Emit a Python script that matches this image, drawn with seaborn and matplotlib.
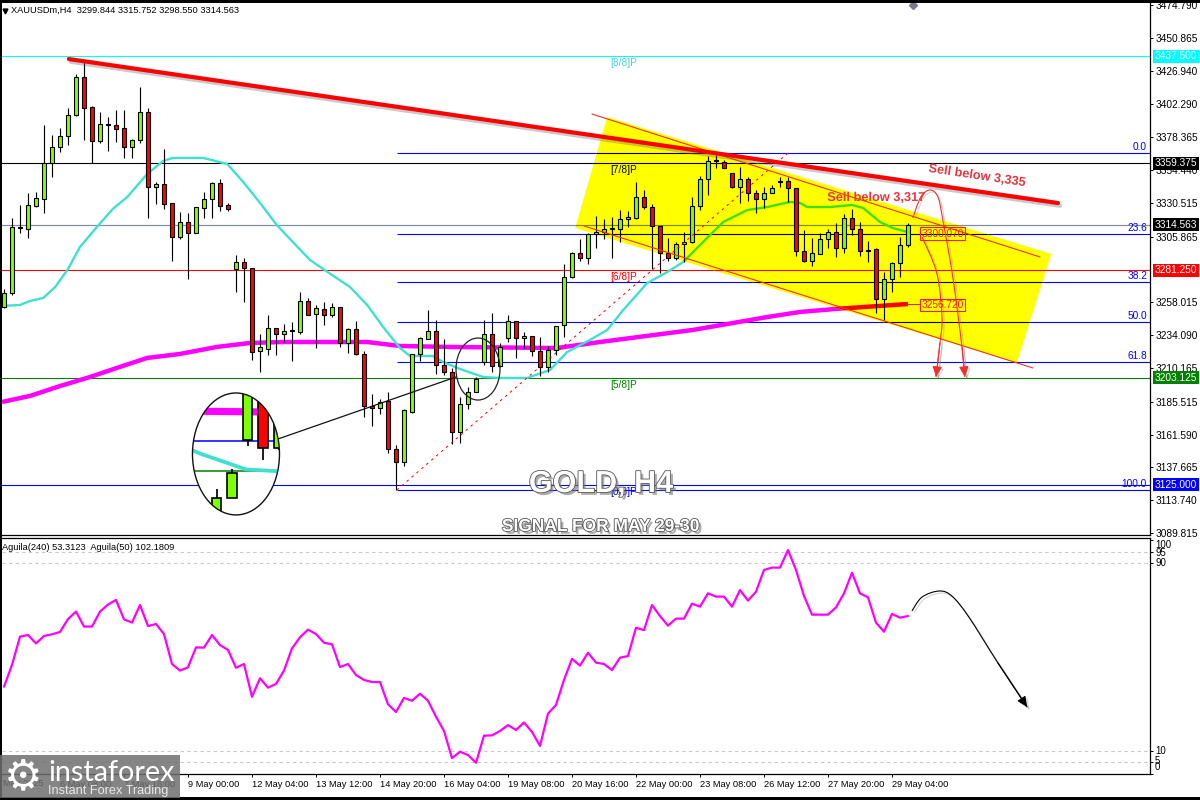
import numpy as np
import matplotlib
matplotlib.use("Agg")
import matplotlib.pyplot as plt
import matplotlib.patheffects as pe
from matplotlib.colors import to_rgb
from matplotlib.patches import Polygon, Ellipse, Rectangle, PathPatch
from matplotlib.path import Path
import seaborn as sns

# ------------------------------------------------------------------ data
opens = [3254.6,3264.8,3312.2,3311.5,3328.3,3333.4,3359.6,3371.3,3379.3,3394.6,
         3422.3,3400.4,3375.7,3387.3,3387.3,3385.1,3371.3,3376.4,3396.8,3342.1,
         3344.3,3330.5,3305.7,3316.6,3308.6,3326.8,3333.4,3345.0,3329.0,3282.3,
         3287.4,3283.1,3222.6,3224.0,3239.3,3234.9,3237.1,3236.4,3259.0,3249.5,
         3253.2,3248.8,3254.6,3228.4,3238.6,3220.4,3182.5,3181.0,3186.1,3151.1,
         3141.6,3178.1,3220.4,3231.3,3237.1,3212.4,3207.2,3163.5,3183.9,3192.7,
         3214.5,3234.9,3211.6,3232.0,3244.4,3232.0,3233.5,3222.6,3210.9,3223.3,
         3241.5,3276.5,3294.0,3290.4,3307.9,3309.3,3311.5,3311.5,3318.8,3319.5,
         3334.8,3327.5,3313.7,3294.0,3290.4,3300.6,3302.0,3328.3,3347.9,3361.1,
         3360.3,3352.3,3342.1,3347.9,3337.7,3333.4,3337.7,3345.8,3346.5,3341.4,
         3295.5,3288.2,3293.3,3304.2,3309.3,3297.6,3319.5,3311.5,3296.2,3296.9,
         3260.5,3275.0,3286.7,3299.844]
highs = [3267.8,3319.5,3329.0,3337.7,3338.5,3387.3,3380.0,3385.1,3399.7,3424.5,
         3433.2,3401.2,3396.8,3393.1,3398.3,3398.3,3377.1,3415.0,3399.7,3345.8,
         3369.8,3330.5,3323.9,3323.2,3327.5,3338.5,3345.8,3347.9,3330.5,3292.5,
         3290.4,3283.1,3234.9,3248.8,3239.3,3242.2,3243.7,3265.6,3261.2,3256.1,
         3258.3,3257.5,3254.6,3239.3,3244.4,3222.6,3191.2,3187.6,3192.7,3154.0,
         3180.3,3220.4,3232.8,3252.5,3245.2,3231.3,3210.2,3189.0,3196.3,3203.6,
         3245.2,3250.3,3228.4,3248.8,3244.4,3236.4,3233.5,3232.8,3226.2,3240.8,
         3286.0,3294.7,3304.2,3308.6,3321.0,3318.8,3320.2,3325.3,3324.6,3345.8,
         3339.9,3329.7,3313.7,3304.9,3302.0,3309.3,3334.8,3350.1,3364.7,3365.4,
         3361.8,3352.3,3356.7,3349.4,3339.9,3342.1,3343.6,3349.4,3349.4,3341.4,
         3310.8,3304.9,3308.6,3311.5,3315.9,3322.4,3326.1,3316.6,3302.7,3297.6,
         3280.1,3287.4,3305.7,3315.752]
lows = [3253.9,3263.4,3308.6,3304.9,3327.5,3323.2,3349.4,3367.6,3372.7,3393.9,
        3376.4,3359.6,3374.2,3368.4,3374.9,3363.3,3363.3,3374.2,3319.5,3329.7,
        3326.1,3288.2,3304.2,3275.0,3308.6,3319.5,3319.5,3324.6,3324.6,3265.6,
        3258.3,3216.0,3207.2,3219.6,3219.6,3229.1,3215.3,3234.9,3248.8,3224.7,
        3241.5,3247.3,3225.5,3221.1,3219.6,3174.4,3167.9,3176.6,3148.2,3121.2,
        3138.7,3177.4,3215.3,3231.3,3205.8,3205.1,3154.8,3155.5,3180.3,3192.7,
        3212.4,3207.2,3210.9,3229.1,3217.5,3224.7,3218.9,3204.3,3207.2,3219.6,
        3232.8,3275.8,3288.2,3286.0,3297.6,3304.2,3290.4,3302.0,3312.9,3318.8,
        3326.1,3282.3,3279.4,3288.2,3288.9,3287.4,3301.3,3325.3,3336.3,3355.9,
        3355.9,3341.4,3330.5,3331.9,3323.2,3326.8,3337.7,3342.1,3331.2,3291.8,
        3287.4,3284.5,3293.3,3297.6,3291.1,3294.0,3307.1,3291.8,3287.4,3250.3,
        3245.2,3265.6,3276.5,3298.55]
closes = [3264.8,3312.9,3312.9,3329.0,3334.1,3359.6,3371.3,3379.3,3394.6,3422.3,
          3399.7,3375.7,3388.0,3387.8,3384.4,3371.3,3376.4,3396.8,3342.1,3344.3,
          3329.7,3305.7,3316.6,3308.6,3327.5,3333.4,3345.0,3328.3,3326.1,3287.4,
          3283.1,3221.8,3225.5,3239.3,3234.9,3237.1,3237.5,3259.0,3248.8,3253.9,
          3248.8,3254.6,3228.4,3238.6,3220.4,3182.5,3181.0,3185.4,3151.1,3141.6,
          3179.5,3220.4,3232.0,3237.1,3212.4,3207.2,3163.5,3183.9,3192.7,3202.1,
          3234.9,3211.6,3225.5,3244.4,3232.0,3233.5,3222.6,3210.9,3223.3,3240.8,
          3276.5,3294.0,3290.4,3307.9,3309.3,3311.5,3311.9,3318.8,3320.2,3334.8,
          3327.5,3313.7,3294.0,3290.4,3300.6,3302.0,3328.3,3347.9,3361.1,3361.5,
          3355.9,3342.1,3347.9,3337.7,3333.4,3337.7,3341.4,3346.2,3341.4,3295.5,
          3288.2,3294.0,3304.2,3309.3,3297.6,3319.5,3311.5,3295.5,3295.8,3260.5,
          3275.0,3286.7,3299.8,3314.563]

ma_fast_x = [-0.1,2,3.25,4.9,6.4,8,9.5,11.6,13.6,15.4,17.9,19.9,21.1,24.9,27.9,29.9,32,34.1,36.1,38.25,
             39.9,43.25,45.4,47.4,49.5,50.75,53.6,54.9,57,59.9,62,65.4,68.25,70.4,73.25,75.4,77.4,80.4,
             82.9,84.9,87,89.9,92.9,95.4,98.25,99.5,100.4,103.25,106,107.4,109.5,111.1,112.9]
ma_fast_y = [3255.4,3256.1,3259,3261.2,3269.2,3282.3,3298.4,3312.9,3326.1,3334.8,3351.6,3361.1,3363.3,3363.3,
             3358.9,3345.8,3330.5,3314.4,3302,3288.9,3282.3,3269.2,3256.1,3240,3224.7,3218.9,3218.9,3214.5,
             3209.4,3203.6,3202.9,3202.9,3208.7,3221.8,3230.6,3237.9,3252.4,3272.1,3280.1,3287.4,3299.8,
             3316.6,3325.3,3327.5,3331.2,3330.5,3327.5,3327.5,3329,3326.8,3316.6,3312.2,3309.3]
ma_slow_x = [-0.25,3.25,7,10.75,14.1,17.9,22,26.6,30.75,34.9,41.1,45.4,49.5,55.75,69.1,74.5,86.1,95.4,99.5,103.9,113]
ma_slow_y = [3185.4,3189.8,3197.0,3203.6,3210.2,3217.5,3220.4,3225.5,3228.4,3229.1,3229.1,3229.1,3226.2,3225.5,
             3224.7,3229.1,3237.9,3247.3,3251,3253.2,3256.8]

aguila = [37.3,46.6,58.7,59.4,55.8,59.0,59.7,60.7,66.2,69.4,63.0,63.0,69.4,72.4,74.4,66.1,64.7,72.2,63.2,64.1,
          59.8,47.0,44.2,45.6,54.1,54.0,59.4,55.1,53.0,45.4,47.0,33.0,40.9,36.9,38.5,44.2,53.7,58.4,61.7,59.8,
          56.1,55.4,45.7,47.0,42.3,40.2,39.3,39.3,29.8,26.5,32.5,31.3,34.3,31.3,24.5,18.4,6.8,9.5,8.1,4.8,
          16.4,16.5,18.4,20.9,18.8,22.0,18.0,12.0,25.8,29.5,40.2,49.2,46.3,51.8,47.6,47.0,44.4,49.7,50.4,62.5,
          61.5,72.2,67.5,63.4,66.4,66.4,72.8,71.5,77.2,75.8,75.8,71.5,78.6,74.1,77.9,87.2,88.2,88.2,95.7,87.2,
          76.1,68.1,68.1,68.1,71.2,77.2,86.0,77.2,75.5,64.7,60.8,68.4,66.8,67.5]

murrey_prices = [3437.5, 3359.375, 3281.25, 3203.125, 3125.0]
murrey_names = ["[8/8]P", "[7/8]P", "[6/8]P", "[5/8]P", "[0/8]P"]
murrey_colors = ["#00FFFF", "#000000", "#FF0000", "#008000", "#0000FF"]
fib_names = ["0.0", "23.6", "38.2", "50.0", "61.8", "100.0"]
fib_prices = [3366.7, 3308.2, 3272.6, 3243.5, 3214.3, 3121.2]
bid_price = 3314.563

price_ticks = [3474.790,3450.865,3426.940,3402.290,3378.365,3354.440,3330.515,3305.865,
               3258.015,3234.090,3210.165,3185.515,3161.590,3137.665,3113.740,3089.815]
time_ticks = [7,15,23,31,39,47,55,63,71,79,87,95,103,111]
time_labels = ["6 May 08:00","7 May 16:00","9 May 00:00","12 May 04:00","13 May 12:00","14 May 20:00",
               "16 May 04:00","19 May 08:00","20 May 16:00","22 May 00:00","23 May 08:00","26 May 12:00",
               "27 May 20:00","29 May 04:00"]
aguila_ticks = [100, 95, 90, 10, 5, 0]

# annotation geometry, in candle index / price units
channel_x = [75.4, 130.9, 126.6, 71.4]
channel_y = [3393.1, 3293.3, 3213.8, 3312.2]
upper_x, upper_y = [73.5, 129.5], [3395.3, 3291.1]
lower_x, lower_y = [72.5, 128.6], [3313.7, 3210.2]
trend_x, trend_y = [8.1, 131.75], [3435.4, 3330.4]
fib_x, fib_y = [49.1, 98.0], [3121.2, 3366.9]
curve1_x = [113.6,114.6,115.75,116.75,117.4,118.6,119.75,120.1]
curve1_y = [3319.5,3334.8,3339.9,3334.8,3316.6,3276.5,3225.5,3203.6]
curve2_x = [114.75,116.6,117.25,117.0,116.5]
curve2_y = [3305.7,3279.4,3247.3,3228.4,3203.6]
arrow_x = [113.5,114.75,116.9,118.5,120.6,124.25,127.9]
arrow_y = [69.7,75.6,78.2,76.0,67.1,47.4,28.6]

# ------------------------------------------------------------------ style
FONT = ["Liberation Sans", "DejaVu Sans"]
sns.set_theme(style="white")
plt.rcParams["font.family"] = FONT
plt.rcParams["axes.unicode_minus"] = False
TS = 7.3
TS2 = 6.7
PX = 0.72

W, H = 1200, 800
fig = plt.figure(figsize=(12, 8), dpi=100, facecolor="white")
ax = fig.add_axes([2/W, (H-535)/H, 1148/W, 532/H])
ax2 = fig.add_axes([2/W, (H-774)/H, 1148/W, 236/H], sharex=ax)
IDX = np.arange(len(closes))


def same(c):
    return c


def tint(c):
    r, g, b = to_rgb(c)
    return (r, g, 0)


def draw_levels(a, col=same, k=1.0):
    x0, x1 = -1, 144
    for p, c in zip(murrey_prices, murrey_colors):
        a.hlines(p, x0, x1, color=col(c), lw=PX*1.1*k, zorder=1)
    a.hlines(bid_price, x0, x1, color=col("#7f8c9c"), lw=PX*1.2*k, zorder=1)
    for p in fib_prices:
        a.hlines(p, fib_x[0], x1, color=col("#0000FF"), lw=PX*1.1*k, zorder=1)


def draw_mas(a, col=same, k=1.0):
    sns.lineplot(x=ma_slow_x, y=ma_slow_y, ax=a, color=col("#FF00FF"), lw=3.2*k, estimator=None,
                 sort=False, zorder=1.2, solid_capstyle="butt")
    sns.lineplot(x=ma_fast_x, y=ma_fast_y, ax=a, color=col("#40E0D0"), lw=1.7*k, estimator=None,
                 sort=False, zorder=1.3)


def draw_candles(a, k=1.0):
    o, c = np.array(opens), np.array(closes)
    a.vlines(IDX, lows, highs, color="#000000", lw=PX*1.15*k, zorder=4)
    colors = np.where(c >= o, "#7FFF00", "#FF0000")
    a.bar(IDX, np.abs(c - o), bottom=np.minimum(o, c), width=0.6, color=colors,
          edgecolor="#000000", linewidth=PX*1.1*k, zorder=5)


# ------------------------------------------------------------------ price panel
draw_levels(ax)
draw_mas(ax)
poly = Polygon(np.column_stack([channel_x, channel_y]), closed=True, fc="#FFFF00", ec="none", zorder=2)
ax.add_patch(poly)
before = set(ax.get_children())
draw_levels(ax, col=tint)
draw_mas(ax, col=tint)
for art in ax.get_children():
    if art not in before:
        art.set_zorder(art.get_zorder() + 2)
        art.set_clip_path(poly)
draw_candles(ax)

RED = "#FF0000"
ax.plot(upper_x, upper_y, color="#f03020", lw=PX*1.1, zorder=5.5)
ax.plot(lower_x, lower_y, color="#f03020", lw=PX*1.1, zorder=5.5)
ax.plot(fib_x, fib_y, color=RED, lw=PX, ls=(0, (2.5, 4)), zorder=5.4)
ax.plot(trend_x, trend_y, color=RED, lw=3.0, zorder=6, solid_capstyle="round",
        path_effects=[pe.SimpleLineShadow(offset=(1.5, -2), shadow_color="#666666", alpha=0.35), pe.Normal()])


def smooth_curve(a, xs, ys, color, lw, z, head):
    pts = np.column_stack([xs, ys])
    t = a.transData.transform(pts)
    verts, codes = [tuple(t[0])], [Path.MOVETO]
    for i in range(len(t) - 1):
        p0 = t[max(i - 1, 0)]; p1 = t[i]; p2 = t[i + 1]; p3 = t[min(i + 2, len(t) - 1)]
        verts += [tuple(p1 + (p2 - p0) / 6), tuple(p2 - (p3 - p1) / 6), tuple(p2)]
        codes += [Path.CURVE4] * 3
    inv = a.transData.inverted()
    patch = PathPatch(Path(inv.transform(verts), codes), fc="none", ec=color, lw=lw, zorder=z)
    effects = [pe.SimpleLineShadow(offset=(1.5, -1.5), shadow_color="#888888", alpha=0.35), pe.Normal()]
    patch.set_path_effects(effects)
    a.add_patch(patch)
    a.annotate("", xy=(xs[-1], ys[-1]), xytext=(xs[-2], ys[-2]), zorder=z,
               arrowprops=dict(arrowstyle="-|>,head_length=0.7,head_width=0.32", color=color, lw=lw,
                               mutation_scale=head, shrinkA=0, shrinkB=0, path_effects=effects))


ax.set_xlim(-0.25, 143.25)
ax.set_ylim(3088.4, 3476.25)
smooth_curve(ax, curve1_x, curve1_y, "#f03030", 0.8, 7, 9)
smooth_curve(ax, curve2_x, curve2_y, "#f03030", 0.8, 7, 9)

# level names
for p, n, c in zip(murrey_prices, murrey_names,
                   ["#45d5d5", "#000000", "#FF0000", "#008000", "#0000FF"]):
    ax.annotate(n, (77.5, p), xytext=(0, -7), textcoords="offset pixels", ha="center", va="center",
                fontsize=TS, color=c, zorder=6)
for p, n in zip(fib_prices, fib_names):
    ax.annotate(n, (1, p), xycoords=("axes fraction", "data"), xytext=(-3, 6), textcoords="offset pixels",
                ha="right", va="center", fontsize=TS, color="#0000FF", zorder=6)

# boxed price tags
for txt, p, fc, tc in [("3437.500", 3437.5, "#00FFFF", "#FFFFFF"), ("3359.375", 3359.375, "#000000", "#FFFFFF"),
                       ("3314.563", 3314.563, "#000000", "#FFFFFF"), ("3281.250", 3281.25, "#FF0000", "#FFFFFF"),
                       ("3203.125", 3203.125, "#008000", "#FFFFFF"), ("3125.000", 3125.0, "#0000FF", "#FFFFFF")]:
    ax.annotate(txt, (1, p), xycoords=("axes fraction", "data"), xytext=(5, 0), textcoords="offset pixels",
                ha="left", va="center", fontsize=TS, color=tc, zorder=12, annotation_clip=False,
                bbox=dict(boxstyle="square,pad=0.16", fc=fc, ec=fc, lw=0))

# tags inside the channel
for txt, p in [("3300.070", 3308.2), ("3256.720", 3256.1)]:
    ax.text(117.3, p, txt, ha="center", va="center", fontsize=TS, color="#f02020", zorder=7,
            bbox=dict(boxstyle="square,pad=0.14", fc="none", ec="#f02020", lw=0.8))
ax.plot([113, 114.4], [3256.8, 3256.8], color="#f02020", lw=PX, zorder=6)

sell = dict(color="#e23a42", weight="bold", ha="center", va="center", zorder=8,
            path_effects=[pe.SimpleLineShadow(offset=(1, -1), shadow_color="#888888", alpha=0.3), pe.Normal()])
ax.text(121.6, 3350.1, "Sell below 3,335", fontsize=9.2, rotation=-8.5, rotation_mode="anchor", **sell)
ax.text(109, 3334.1, "Sell below 3,317", fontsize=9.2, **sell)

ax.annotate("XAUUSDm,H4  3299.844 3315.752 3298.550 3314.563", (0, 1), xycoords="axes fraction",
            xytext=(9, -7), textcoords="offset pixels", ha="left", va="center", fontsize=TS2, color="#000000", zorder=10)
ax.plot([0.0025], [0.985], marker="v", ms=3.5, color="#000000", transform=ax.transAxes, clip_on=False, zorder=10)
ax.plot([113.6], [3475.0], marker="D", ms=4.5, color="#7a7a8a", clip_on=True, zorder=10)

# headline
head_fx = [pe.SimplePatchShadow(offset=(2, -2), shadow_rgbFace="#777777", alpha=0.6),
           pe.Stroke(linewidth=1.2, foreground="#555555"), pe.Normal()]
ax.text(74.6, 3125.5, "GOLD, H4", fontsize=22, weight="bold", color="#FFFFFF", ha="center", va="center",
        zorder=9, path_effects=head_fx)
ax.text(74.56, 3094.6, "SIGNAL FOR MAY 29-30", fontsize=12.5, weight="bold", color="#FFFFFF",
        ha="center", va="center", zorder=9, path_effects=head_fx)

# magnified ellipse and its pointer
ax.add_patch(Ellipse((59.25, 3209.4), 5.5, 45.2, fc="none", ec="#222222", lw=0.9, zorder=7))
ax.plot([34.25, 56.5], [3158.4, 3203.6], color="#111111", lw=0.9, zorder=7)
axi = ax.inset_axes([23.56, 3103.03, 10.875, 88.9], transform=ax.transData, zorder=8)
axi.set_axis_off()
bg = Ellipse((0.5, 0.5), 1, 1, transform=axi.transAxes, fc="white", ec="none", zorder=0)
axi.add_patch(bg)
draw_levels(axi, k=1.4)
draw_mas(axi, k=1.6)
draw_candles(axi, k=1.5)
axi.set_xlim(59.25 - 2.806, 59.25 + 2.806)
axi.set_ylim(3209.4 - 22.9, 3209.4 + 22.9)
for art in axi.lines + axi.collections + axi.patches:
    art.set_clip_path(bg)
axi.add_patch(Ellipse((0.5, 0.5), 1, 1, transform=axi.transAxes, fc="none", ec="#111111", lw=1.0,
                      zorder=20, clip_on=False))

ax.set_xlabel(""); ax.set_ylabel("")
ax.yaxis.tick_right()
ax.set_yticks(price_ticks)
ax.set_yticklabels([f"{v:.3f}" for v in price_ticks], fontsize=TS, color="#000000")
ax.tick_params(axis="y", which="both", right=True, left=False, length=2.5, width=0.7, pad=1.8, color="#000000")
ax.tick_params(axis="x", which="both", bottom=False, labelbottom=False)
for s in ["left", "top"]:
    ax.spines[s].set_visible(False)
for s in ["right", "bottom"]:
    ax.spines[s].set_color("#000000"); ax.spines[s].set_linewidth(0.9)

# ------------------------------------------------------------------ oscillator panel
ax2.set_ylim(0, 100.85)
for v in [95, 90, 10, 5]:
    ax2.axhline(v, color="#c8c8c8", lw=PX*1.1, ls=(0, (3, 3)), zorder=1)
sns.lineplot(x=IDX, y=aguila, ax=ax2, color="#FF00FF", lw=1.6, estimator=None, sort=False, zorder=3)
ax2.set_xlim(-0.25, 143.25)
smooth_curve(ax2, arrow_x, arrow_y, "#000000", 0.8, 4, 9)
ax2.set_xlabel(""); ax2.set_ylabel("")
ax2.annotate("Aguila(240) 53.3123  Aguila(50) 102.1809", (0, 1), xycoords="axes fraction", xytext=(0, -9),
             textcoords="offset pixels", ha="left", va="center", fontsize=TS2, color="#000000", zorder=5)

ax2.yaxis.tick_right()
ax2.set_yticks(aguila_ticks)
ax2.set_yticklabels([])
ax2.tick_params(axis="y", which="both", right=True, left=False, length=2.5, width=0.7, color="#000000")
for v, off in zip(aguila_ticks, [-5, -1, 0, 0, 1, 7]):
    ax2.annotate(str(v), (1, v), xycoords=("axes fraction", "data"), xytext=(5, off), textcoords="offset pixels",
                 ha="left", va="center", fontsize=TS - 0.4, color="#000000", annotation_clip=False)
ax2.set_xticks(time_ticks)
ax2.set_xticklabels(time_labels, fontsize=TS2, color="#000000", ha="left")
ax2.tick_params(axis="x", which="both", bottom=True, length=2.5, width=0.7, pad=1.5, color="#000000", labelbottom=True)
ax2.annotate("May 2025", (0, 0), xycoords="axes fraction", xytext=(1, -9), textcoords="offset pixels",
             ha="left", va="center", fontsize=TS2, color="#000000", annotation_clip=False)
ax2.spines["left"].set_visible(False)
for s in ["right", "bottom", "top"]:
    ax2.spines[s].set_color("#000000"); ax2.spines[s].set_linewidth(0.9)

# ------------------------------------------------------------------ frame and watermark


def fig_rect(x0, y0, x1, y1, z=10, **kw):
    fig.add_artist(Rectangle((x0/W, 1 - y1/H), (x1 - x0)/W, (y1 - y0)/H, transform=fig.transFigure, zorder=z, **kw))


fig_rect(0, 0, 1200, 3, fc="#000000", ec="none")
fig_rect(0, 0, 2, 800, fc="#000000", ec="none")
fig_rect(0, 797, 1200, 800, fc="#000000", ec="none")
fig_rect(0, 755, 180, 798, z=11, fc="#707070", ec="none", alpha=0.85)
fig.text(23/W, 1 - 777/H, "\u2699", fontsize=31, color="white", ha="center", va="center",
         family="DejaVu Sans", zorder=12)
fig.text(48/W, 1 - 773/H, "instaforex", fontsize=20.7, color="white", ha="left", va="center",
         family=["Lato", "DejaVu Sans"], zorder=12)
fig.text(48/W, 1 - 791/H, "Instant Forex Trading", fontsize=9.2, color="#e8e8e8", ha="left", va="center",
         family=["Liberation Sans", "DejaVu Sans"], zorder=12)

fig.savefig("out.png", dpi=100, facecolor="white")
